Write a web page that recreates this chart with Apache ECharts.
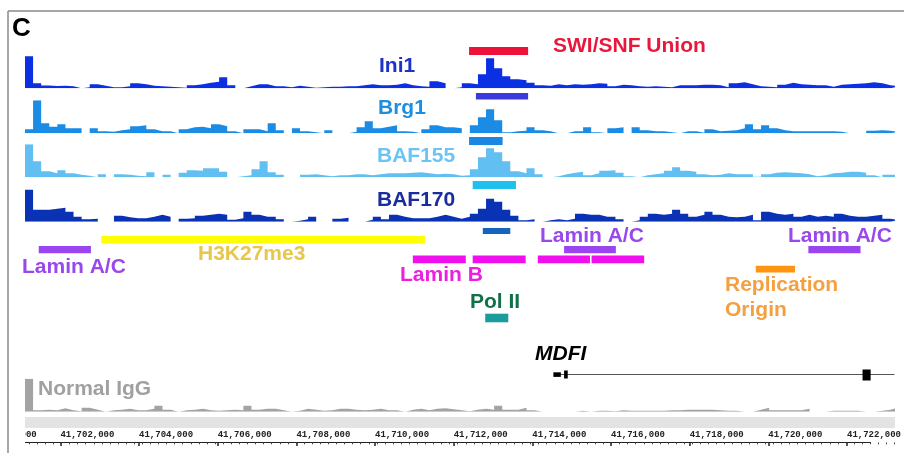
<!DOCTYPE html>
<html><head><meta charset="utf-8">
<script src="https://cdn.jsdelivr.net/npm/echarts@6/dist/echarts.min.js"></script>
<style>html,body{margin:0;padding:0;background:#fff}#c{width:904px;height:453px}</style>
</head><body><div id="c"></div>
<script>
// ---- data (genomic coordinates, bins of 200 bp starting at binStart) ----
const binStart = 41701100;
const binSize = 200;
const viewStart = 41701100;
const viewEnd = 41722600;
const tickValues = [41700000, 41702000, 41704000, 41706000, 41708000, 41710000, 41712000,
  41714000, 41716000, 41718000, 41720000, 41722000];
const minorStep = 200;

const ini1 = [32,5,2.7,2.3,2.5,2,0,1,4,2.5, 1,1,2,5,4,2.5,2,1.5,1,0.5, 3,4,5.5,6.5,11,3,0,2,4,4,
  2,2,1,2.5,1.5,0.5,1,1.5,1.5,2, 2,3,4,3,3,3.5,5,3,2,1.5, 7,5,0,1,5,4,14,30,20,12,
  9,8,5.5,3,2.5,4,3,4,3.5,4, 5,4.5,2,3.5,3,2,1.5,2,1.5,1, 3,3,3,3.5,3.5,3,1,5,6,4,
  2,1.5,1,3.5,5.5,4,3.5,3,3,1.5, 3.5,4,4.5,5,6,5,3,2];
const brg1 = [4,33,10,6.5,9,5,5,0,5,2, 1.5,3,4,7,8,4,2,2,0,4, 6,6.5,5,9,7,2,0,4,4,2,
  10,3,0,5,2,1,0,3,0,0, 1.5,6,12,5,6.5,8,2,1.5,0,4, 8,6,6,5,0,8,16,24,13,1,
  2,2.5,6,3,2,0,0,2,2,6, 1,0,5,6,0,6,3,2,2,1, 0,2,2,0.5,4,2,2.5,3,5,9,
  4,8,5,3,2,2,2,2,2,2, 1.5,0,0,0,2.5,3,2.5,1.5];
const baf155 = [33,16,6,4,7,4,2.5,1.5,0,3, 0,3,2.5,1.5,1,5,0,2.5,0,4.5, 7,6.5,9,9,5.5,0,1,2,8,16,
  5,2.5,0,0,2.5,3,2,1,2,2, 3,3,2,3,4,4,4,4.5,5,4, 3,3.5,3,1.5,2,8,20,29,25,16,
  6,4,9,3,0,1,3,4.5,5.5,2, 4,6.5,7,4.5,1,0,2,3,4,6.5, 10,6.5,5.5,3,2,2.5,4,3,3,3,
  0.5,3,4.5,5,4.5,4,3,1,2,4, 4.5,5.5,5.5,4.5,2,0,2.5,2.5];
const baf170 = [32,12,12,13,14,10,5,2.5,3,0, 0,6,4.5,3.5,3.5,5,7,5,0,3, 3.5,6,7,8,7,2,3.5,10,7,5,
  5,2.5,0,1,2.5,5,0,0,3,4, 0,0,2,5,2.5,7,5,3.5,3.5,3.5, 5,7,5,3,5,8,13,23,20,12,
  6,1.5,2.5,0,1.5,2.5,1.5,3,8,7, 7,5,5,2.5,0,1.5,5,8,7,8, 12,8,5,7,10,7,5,4.5,5,7,
  1.5,10,8,7,8,5,7,5,6,5, 8,6,5,5,6,7,3,1.5];
const igg = [33,1.5,2,1.5,3.5,1.5,0.5,4,2,0, 1.5,2,3,1.5,1.5,3,6,2,0,1.5, 2,3,1.5,1,1.5,2,1.5,6,2,3,
  3,1.5,0,1,3,2,1,1.5,3,3, 2,1.5,2,3,1.5,1.5,0,2,3,1.5, 3,3.5,2.5,1.5,0.5,2,3,2,6,2,
  2,4,1.5,0,0,0,0,0,1,0, 1,1,0.5,1.5,1,1,1,1,1,1.5, 1.5,2,2,2,2,1.5,1,1,0,0,
  2,4,1.5,1.5,1.5,1.5,3,0,0,1, 1,1,1,0,0,1,2,4];

// peak / region intervals [start, end]
const swiSnfUnion = [[41712080, 41713540]];
const ini1Peaks = [[41712250, 41713540]];
const brg1Peaks = [[41712080, 41712910]];
const baf155Peaks = [[41712170, 41713240]];
const baf170Peaks = [[41712420, 41713100]];
const h3k27me3 = [[41702990, 41710990]];
const laminAC = [[41701440, 41702730], [41714430, 41715710], [41720470, 41721760]];
const laminB = [[41710690, 41712000], [41712170, 41713480], [41713780, 41715070], [41715110, 41716410]];
const replicationOrigin = [[41719170, 41720140]];
const polII = [[41712480, 41713050]];
const mdfiSpan = [[41714200, 41723500]];
const mdfiExons = [[41714165, 41714350], [41714430, 41714520], [41721810, 41722010]];

// ---- layout ----
const G = {left: 25, right: 9.5};
const tracks = [
  {name: 'Ini1', data: ini1, color: '#0b2fe3', top: 55.3},
  {name: 'Brg1', data: brg1, color: '#1a8ce6', top: 100.3},
  {name: 'BAF155', data: baf155, color: '#62bff2', top: 144.3},
  {name: 'BAF170', data: baf170, color: '#0a32b4', top: 188.7},
  {name: 'Normal IgG', data: igg, color: '#a3a3a3', top: 378.7}
];
const trackH = 33;
const rows = [
  {data: swiSnfUnion, y: 47, h: 8, color: '#ee1139'},
  {data: ini1Peaks, y: 93, h: 6.5, color: '#3b3bdc'},
  {data: brg1Peaks, y: 137, h: 8, color: '#1a88e0'},
  {data: baf155Peaks, y: 181, h: 8, color: '#1ec0ee'},
  {data: baf170Peaks, y: 228, h: 6, color: '#1565c0'},
  {data: h3k27me3, y: 236, h: 7.5, color: '#ffff00'},
  {data: laminAC, y: 246, h: 7.3, color: '#9945f0'},
  {data: laminB, y: 255.5, h: 7.8, color: '#f010ee'},
  {data: replicationOrigin, y: 265.7, h: 6.8, color: '#ff9410'},
  {data: polII, y: 313.7, h: 8.6, color: '#1a9c9c'}
];
const geneLineY = 374.5;
const exonRows = [{y: 372.3, h: 4.6}, {y: 370.5, h: 8}, {y: 369.5, h: 11}];

const grids = [], xAxes = [], yAxes = [], series = [];
function hiddenX(i) { return {type: 'value', gridIndex: i, min: viewStart, max: viewEnd, show: false}; }
tracks.forEach((t, i) => {
  grids.push({left: G.left, right: G.right, top: t.top, height: trackH});
  xAxes.push(hiddenX(i));
  yAxes.push({type: 'value', gridIndex: i, min: 0, max: trackH, show: false});
  const d = t.data.map((v, k) => [binStart + k * binSize, v]);
  d.push([binStart + t.data.length * binSize, t.data[t.data.length - 1]]);
  series.push({type: 'line', xAxisIndex: i, yAxisIndex: i, data: d, step: 'end', symbol: 'none',
    lineStyle: {width: 0}, areaStyle: {color: t.color, opacity: 1}, silent: true, animation: false});
});
// overlay grid for annotation tracks
const OV = tracks.length;
grids.push({left: G.left, right: G.right, top: 0, height: 453});
xAxes.push(hiddenX(OV));
yAxes.push({type: 'value', gridIndex: OV, min: 0, max: 453, inverse: true, show: false});
function rectSeries(data, yOf, hOf, color) {
  return {type: 'custom', xAxisIndex: OV, yAxisIndex: OV, data: data.map(d => [d[0], d[1]]),
    encode: {x: [0, 1]}, silent: true, animation: false, clip: false,
    renderItem(params, api) {
      const y = yOf(params.dataIndex), h = hOf(params.dataIndex);
      const p0 = api.coord([api.value(0), y]);
      const p1 = api.coord([Math.min(api.value(1), viewEnd), y + h]);
      return {type: 'rect', shape: {x: p0[0], y: p0[1], width: p1[0] - p0[0], height: p1[1] - p0[1]},
        style: {fill: color}};
    }};
}
rows.forEach(r => series.push(rectSeries(r.data, () => r.y, () => r.h, r.color)));
// gene model
series.push({type: 'custom', xAxisIndex: OV, yAxisIndex: OV, data: mdfiSpan, encode: {x: [0, 1]},
  silent: true, animation: false, clip: false,
  renderItem(params, api) {
    const p0 = api.coord([api.value(0), geneLineY]);
    const p1 = api.coord([Math.min(api.value(1), viewEnd), geneLineY]);
    return {type: 'line', shape: {x1: p0[0], y1: p0[1], x2: p1[0], y2: p1[1]},
      style: {stroke: '#555', lineWidth: 1}};
  }});
series.push(rectSeries(mdfiExons, i => exonRows[i].y, i => exonRows[i].h, '#000'));

// coordinate axis (major ticks + labels)
const inView = tickValues.filter(v => v >= viewStart && v <= viewEnd);
const minorValues = [];
for (let v = Math.ceil(viewStart / minorStep) * minorStep; v <= viewEnd; v += minorStep) minorValues.push(v);
const labelFont = {color: '#222', fontSize: 9, fontWeight: 'bold', fontFamily: 'Liberation Mono, Courier New, monospace'};
const fmt = v => v.toLocaleString('en-US');
const AX = OV + 1;
grids.push({left: G.left, right: G.right, top: 430, height: 12.5});
xAxes.push({type: 'value', gridIndex: AX, min: viewStart, max: viewEnd, position: 'bottom',
  axisLine: {show: true, lineStyle: {color: '#222', width: 1}},
  axisTick: {show: true, length: 3.5, customValues: inView, lineStyle: {color: '#222', width: 1.5}},
  splitLine: {show: false},
  axisLabel: Object.assign({inside: true, align: 'left', margin: 3, customValues: inView, formatter: fmt}, labelFont)});
yAxes.push({type: 'value', gridIndex: AX, show: false});
// minor ticks
const MX = AX + 1;
grids.push({left: G.left, right: G.right, top: 430, height: 12.5});
xAxes.push({type: 'value', gridIndex: MX, min: viewStart, max: viewEnd, position: 'bottom',
  axisLine: {show: false},
  axisTick: {show: true, length: 1.8, customValues: minorValues, lineStyle: {color: '#444', width: 1}},
  axisLabel: {show: false}, splitLine: {show: false}});
yAxes.push({type: 'value', gridIndex: MX, show: false});

const F = 'Liberation Sans, Arial, sans-serif';
const labels = [
  {t: 'C', x: 12, y: 29, c: '#000', s: 26},
  {t: 'Ini1', x: 379, y: 66.7, c: '#1e32c8'},
  {t: 'Brg1', x: 378, y: 108, c: '#1e8fe0'},
  {t: 'BAF155', x: 377, y: 156, c: '#6cc4f4'},
  {t: 'BAF170', x: 377, y: 200.5, c: '#1a2d9c'},
  {t: 'SWI/SNF Union', x: 553, y: 46.7, c: '#e8173c'},
  {t: 'Lamin A/C', x: 22, y: 267.5, c: '#9848ec'},
  {t: 'H3K27me3', x: 198, y: 254.7, c: '#e8c64a'},
  {t: 'Lamin B', x: 400, y: 275.5, c: '#ec1ee0'},
  {t: 'Lamin A/C', x: 540, y: 236, c: '#9848ec'},
  {t: 'Lamin A/C', x: 788, y: 236, c: '#9848ec'},
  {t: 'Pol II', x: 470, y: 302, c: '#127048'},
  {t: 'Replication', x: 725, y: 285, c: '#f5a040'},
  {t: 'Origin', x: 725, y: 310.5, c: '#f5a040'},
  {t: 'MDFI', x: 535, y: 354.2, c: '#000', it: true},
  {t: 'Normal IgG', x: 38, y: 389, c: '#a0a0a0'}
];
const graphic = [
  {type: 'rect', shape: {x: 25, y: 417, width: 870, height: 11}, style: {fill: '#e3e3e3'}, z: 1}
];
labels.forEach(l => graphic.push({type: 'text', z: 102, style: {text: l.t, x: l.x, y: l.y, fill: l.c,
  fontSize: l.s || 21, fontWeight: 'bold', fontStyle: l.it ? 'italic' : 'normal', fontFamily: F,
  align: 'left', verticalAlign: 'middle'}}));

const chart = echarts.init(document.getElementById('c'), null, {renderer: 'canvas'});
chart.setOption({animation: false, backgroundColor: '#fff', grid: grids, xAxis: xAxes, yAxis: yAxes,
  series: series, graphic: graphic});

// tick labels that start left of the view (clipped at the panel's left edge, as in the figure)
const offView = tickValues.filter(v => v < viewStart);
const axisY = chart.convertToPixel({xAxisIndex: AX, yAxisIndex: AX}, [viewStart, 0]);
offView.forEach(v => {
  const px = chart.convertToPixel({xAxisIndex: AX}, v);
  graphic.push({type: 'text', z: 50, style: Object.assign({text: fmt(v), x: px + 1, y: axisY[1] - 3,
    fill: labelFont.color, font: 'bold 9px ' + labelFont.fontFamily, align: 'left', verticalAlign: 'bottom'})});
});
graphic.push({type: 'rect', shape: {x: 0, y: 420, width: G.left, height: 33}, style: {fill: '#fff'}, z: 100});
graphic.push({type: 'line', shape: {x1: 8, y1: 11, x2: 904, y2: 11}, style: {stroke: '#8a8a8a', lineWidth: 1.5}, z: 101});
graphic.push({type: 'line', shape: {x1: 8, y1: 11, x2: 8, y2: 453}, style: {stroke: '#8a8a8a', lineWidth: 1.5}, z: 101});
chart.setOption({graphic: graphic}, {replaceMerge: ['graphic']});
</script></body></html>
